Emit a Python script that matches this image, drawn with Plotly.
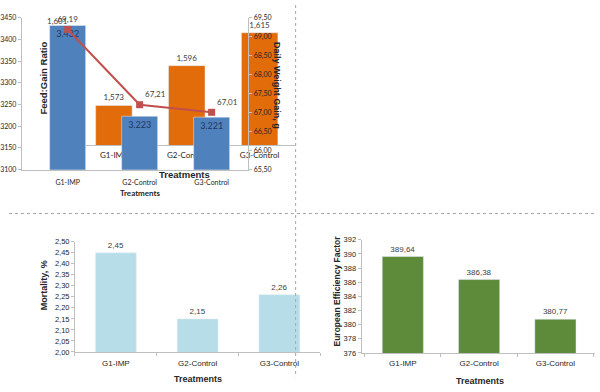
import plotly.graph_objects as go

# ---------------- data ----------------
categories = ["G1-IMP", "G2-Control", "G3-Control"]

feed_gain = [1.573, 1.596, 1.615]
feed_gain_labels = ["1,573", "1,596", "1,615"]

blue_values = [3432, 3223, 3221]
blue_labels = ["3.432", "3.223", "3.221"]

daily_gain = [69.19, 67.21, 67.01]
daily_gain_labels = ["69,19", "67,21", "67,01"]

mortality = [2.45, 2.15, 2.26]
mortality_labels = ["2,45", "2,15", "2,26"]

eef = [389.64, 386.38, 380.77]
eef_labels = ["389,64", "386,38", "380,77"]

extra_label = "1,601"

# ---------------- helpers ----------------
W, H = 600, 392


def px(p):
    return p / W


def py(p):
    return 1 - p / H


TOP_FONT = "Lato, Liberation Sans, Arial"
BOT_FONT = "Liberation Sans, Arial"
AXIS_COL = "#bfbfbf"
TXT = "#404040"

fig = go.Figure()

# orange Feed:Gain bars (bottom layer)
fig.add_trace(go.Bar(
    x=categories, y=feed_gain, text=feed_gain_labels, textposition="outside",
    textfont=dict(size=8, color=TXT, family=TOP_FONT), cliponaxis=False,
    marker=dict(color="#e26b0a"), width=0.5, xaxis="x", yaxis="y",
    showlegend=False))

# blue bars
fig.add_trace(go.Bar(
    x=categories, y=blue_values, text=blue_labels, textposition="inside",
    insidetextanchor="end", textangle=0,
    textfont=dict(size=9, color="#1f3864", family=TOP_FONT),
    marker=dict(color="#4f81bd"), width=0.5, xaxis="x2", yaxis="y2",
    showlegend=False))

# daily weight gain line
fig.add_trace(go.Scatter(
    x=categories, y=daily_gain, text=daily_gain_labels,
    mode="lines+markers+text",
    textposition=["top center", "top right", "top right"],
    textfont=dict(size=8, color=TXT, family=TOP_FONT), cliponaxis=False,
    line=dict(color="#c0504d", width=2),
    marker=dict(symbol="square", size=7, color="#c0504d"),
    xaxis="x2", yaxis="y3", showlegend=False))

# mortality
fig.add_trace(go.Bar(
    x=categories, y=mortality, text=mortality_labels, textposition="outside",
    textfont=dict(size=8, color=TXT, family=BOT_FONT), cliponaxis=False,
    marker=dict(color="#b7dee8"), width=0.5, xaxis="x4", yaxis="y4",
    showlegend=False))

# European efficiency factor
fig.add_trace(go.Bar(
    x=categories, y=eef, text=eef_labels, textposition="outside",
    textfont=dict(size=8, color=TXT, family=BOT_FONT), cliponaxis=False,
    marker=dict(color="#5e8b3a"), width=0.54, xaxis="x5", yaxis="y5",
    showlegend=False))

common_x = dict(type="category", showgrid=False, zeroline=False, showline=True,
                linecolor=AXIS_COL, linewidth=1)
common_y = dict(showgrid=False, zeroline=False, showline=True,
                linecolor=AXIS_COL, linewidth=1, ticks="outside", ticklen=3,
                tickcolor=AXIS_COL)

fig.update_layout(
    width=W, height=H, margin=dict(l=0, r=0, t=0, b=0),
    paper_bgcolor="white", plot_bgcolor="rgba(0,0,0,0)",
    separators=",.", bargap=0.5,
    # orange chart
    xaxis=dict(**common_x, domain=[px(78), px(290)], range=[-0.385, 2.48],
               anchor="y", tickfont=dict(size=8, color="#262626", family=TOP_FONT),
               ticklabelstandoff=2),
    yaxis=dict(domain=[py(144), 1], range=[1.55, 1.631], visible=False,
               anchor="x"),
    # blue chart
    xaxis2=dict(**common_x, domain=[px(13), px(243)], range=[-0.637, 2.51],
                anchor="y2", tickfont=dict(size=7, color="#262626", family=TOP_FONT),
                ticklabelstandoff=6),
    yaxis2=dict(**common_y, domain=[py(169), py(13)], range=[3100, 3450],
                dtick=50, anchor="x2",
                tickfont=dict(size=7, color="#262626", family=TOP_FONT)),
    yaxis3=dict(**common_y, overlaying="y2", side="right", anchor="x2",
                range=[65.5, 69.5], dtick=0.5, tickformat=".2f",
                tickfont=dict(size=7, color="#262626", family=TOP_FONT)),
    # mortality chart
    xaxis4=dict(**common_x, domain=[px(67), px(316)], range=[-0.5, 2.5],
                anchor="y4", ticks="outside", tickson="boundaries", ticklen=3,
                tickcolor=AXIS_COL, ticklabelstandoff=3,
                tickfont=dict(size=8, color="#262626", family=BOT_FONT)),
    yaxis4=dict(**common_y, domain=[py(356), py(243)], range=[2.0, 2.5],
                dtick=0.05, tickformat=".2f", anchor="x4",
                tickfont=dict(size=7.5, color="#262626", family=BOT_FONT)),
    # EEF chart
    xaxis5=dict(**common_x, domain=[px(358), px(595)], range=[-0.54, 2.52],
                anchor="y5", ticks="outside", tickson="boundaries", ticklen=3,
                tickcolor=AXIS_COL, ticklabelstandoff=3,
                tickfont=dict(size=8, color="#262626", family=BOT_FONT)),
    yaxis5=dict(**common_y, domain=[py(357), py(241)], range=[376, 392],
                dtick=2, anchor="x5",
                tickfont=dict(size=7.5, color="#262626", family=BOT_FONT)),
)

ann = []


def add_ann(text, x, y, size, angle=0, bold=True, family=BOT_FONT, color="#262626"):
    ann.append(dict(text=f"<b>{text}</b>" if bold else text, x=px(x), y=py(y),
                    xref="paper", yref="paper", showarrow=False,
                    textangle=angle, font=dict(size=size, family=family, color=color),
                    xanchor="center", yanchor="middle"))


add_ann("Feed:Gain Ratio", 35, 75, 9.5, angle=-90, family=BOT_FONT)
add_ann("Daily Weight Gain, g", 272, 83, 9, angle=90, family=BOT_FONT)
add_ann("Treatments", 178, 174, 9.5, family=BOT_FONT)
add_ann("Treatments", 134, 193, 8, family=TOP_FONT)
add_ann(extra_label, 49, 16, 8, bold=False, family=TOP_FONT, color=TXT)
add_ann("Mortality, %", 35, 287, 9, angle=-90)
add_ann("Treatments", 192, 384, 9)
add_ann("European Efficiency Factor", 332, 294, 8.5, angle=-90)
add_ann("Treatments", 478, 386, 9)
fig.update_layout(annotations=ann)

fig.update_layout(shapes=[
    dict(type="line", xref="paper", yref="paper", x0=px(291), x1=px(291),
         y0=py(0), y1=py(382), line=dict(color="#a6a6a6", width=1, dash="dot")),
    dict(type="line", xref="paper", yref="paper", x0=px(0), x1=px(596),
         y0=py(214), y1=py(214), line=dict(color="#a6a6a6", width=1, dash="dot")),
])

fig.write_html(
    "out.html",
    config={"displayModeBar": False},
    post_script="document.body.style.margin='0';document.body.style.overflow='hidden';",
)
